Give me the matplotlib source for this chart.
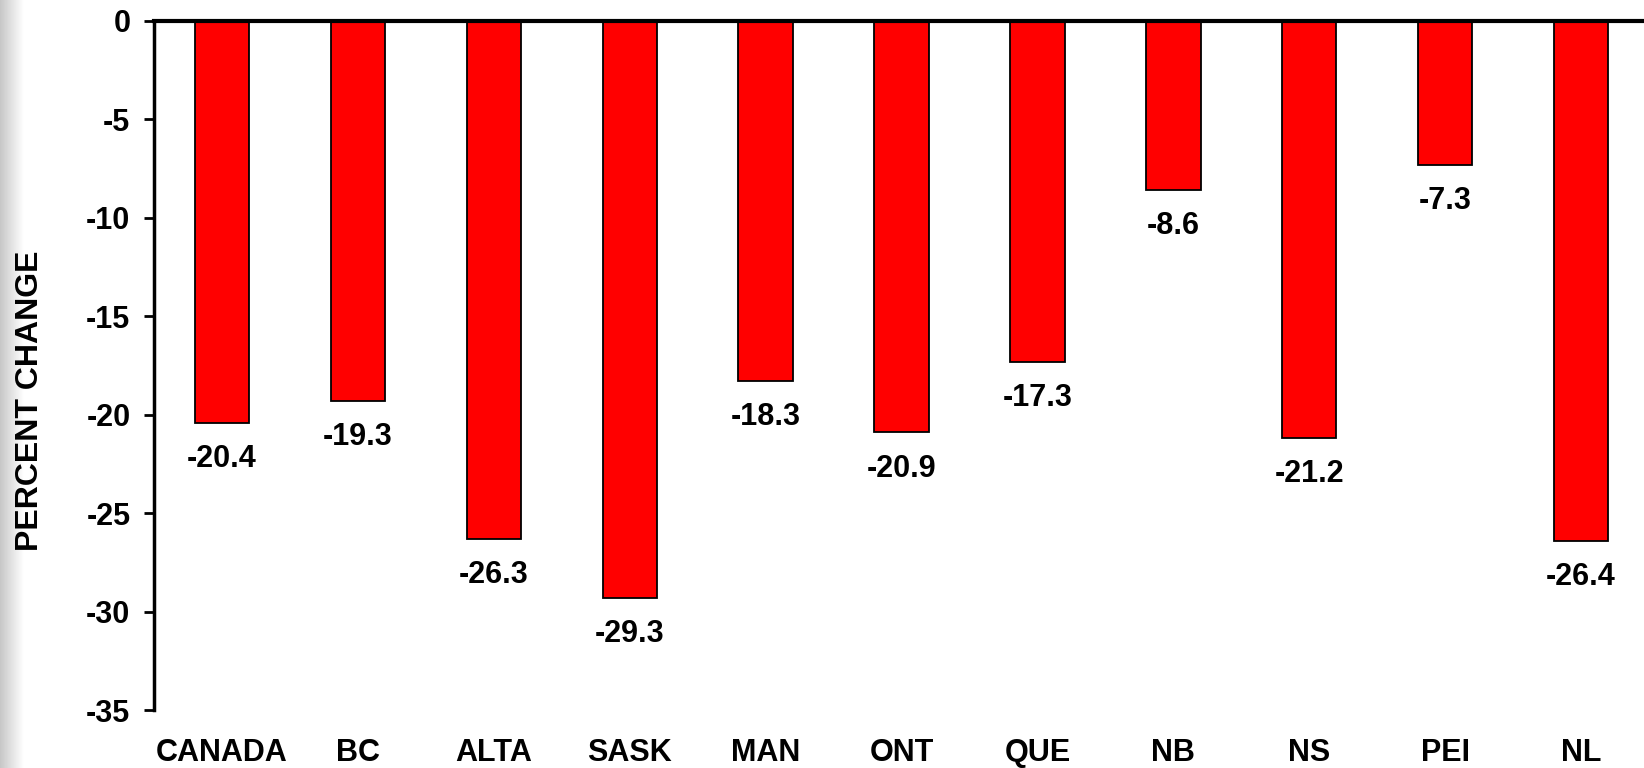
import numpy as np
import matplotlib.pyplot as plt

plt.rcParams['font.family'] = ['Liberation Sans', 'DejaVu Sans']
plt.rcParams['font.weight'] = 'bold'

regions = ['CANADA', 'BC', 'ALTA', 'SASK', 'MAN', 'ONT', 'QUE', 'NB', 'NS', 'PEI', 'NL']
pct_change = [-20.4, -19.3, -26.3, -29.3, -18.3, -20.9, -17.3, -8.6, -21.2, -7.3, -26.4]
yticks = [0, -5, -10, -15, -20, -25, -30, -35]

fig = plt.figure(figsize=(16.44, 7.68), dpi=100)

# soft grey shading down the left edge
bg = fig.add_axes([0, 0, 0.014, 1])
shade = np.linspace(0.78, 1.0, 64).reshape(1, -1)
bg.imshow(shade, cmap='gray', vmin=0, vmax=1, aspect='auto', extent=[0, 1, 0, 1])
bg.axis('off')

ax = fig.add_axes([154 / 1644, 1 - 710 / 768, (1649 - 154) / 1644, (710 - 21) / 768])
x = np.arange(len(regions))
ax.bar(x, pct_change, width=0.4, color='#ff0000', edgecolor='black', linewidth=1.3, zorder=2)

fs = 22
for xi, v in zip(x, pct_change):
    ax.annotate(f'{v:.1f}', (xi, v), xytext=(0, -26), textcoords='offset points',
                ha='center', va='center', fontsize=fs, fontweight='bold')

ax.set_xlim(-0.5, len(regions) - 0.5)
ax.set_ylim(-35, 0)
ax.set_yticks(yticks)
ax.set_yticklabels([str(t) for t in yticks], fontsize=fs, fontweight='bold')
ax.set_xticks(x)
ax.set_xticklabels(regions, fontsize=fs, fontweight='bold')
ax.tick_params(axis='x', length=0, pad=20)
ax.tick_params(axis='y', length=7, width=2, direction='out', pad=10)

for s in ['right', 'bottom']:
    ax.spines[s].set_visible(False)
ax.spines['left'].set_linewidth(2.5)
ax.spines['top'].set_linewidth(3)
ax.spines['top'].set_zorder(3)

ax.set_ylabel('PERCENT CHANGE', fontsize=23, fontweight='bold')
ax.yaxis.set_label_coords(-0.073, 0.449)

fig.savefig('out.png', dpi=100)
